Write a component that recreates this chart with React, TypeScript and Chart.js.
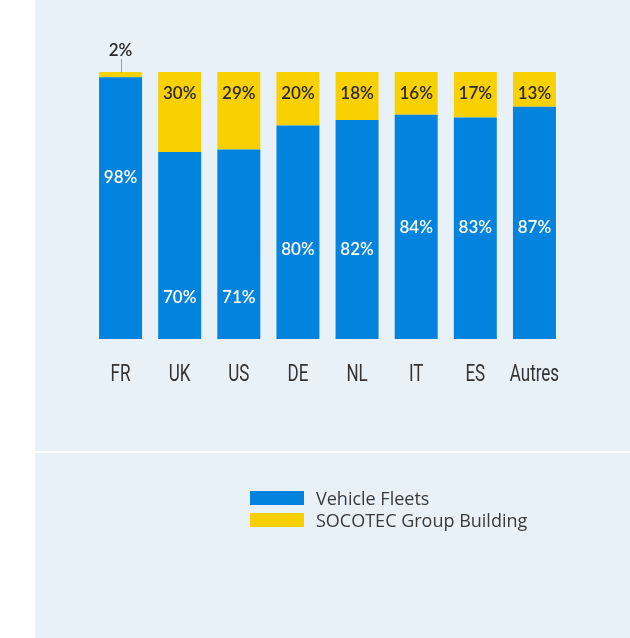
import { useEffect, useRef } from 'react';
import { Chart, registerables } from 'chart.js';

Chart.register(...registerables);

const countries = ['FR', 'UK', 'US', 'DE', 'NL', 'IT', 'ES', 'Autres'];
const vehicleFleets = [98, 70, 71, 80, 82, 84, 83, 87];
const groupBuilding = [2, 30, 29, 20, 18, 16, 17, 13];
// value (in %) at which each Vehicle Fleets label sits inside its bar
const vehicleLabelAnchor = [61, 16, 16, 34, 34, 42, 42, 42];
const seriesNames = ['Vehicle Fleets', 'SOCOTEC Group Building'];

const BLUE = '#0283de';
const YELLOW = '#f9d000';
const PANEL = '#e9f1f8';

const backgroundPlugin = {
  id: 'panelBg',
  beforeDraw(chart: any) {
    const { ctx, width, height } = chart;
    ctx.save();
    ctx.fillStyle = '#ffffff';
    ctx.fillRect(0, 0, width, height);
    ctx.fillStyle = PANEL;
    ctx.fillRect(35, 0, width - 35, height);
    ctx.fillStyle = '#ffffff';
    ctx.fillRect(35, 451, width - 35, 2);
    ctx.restore();
  },
};

// condensed category labels, placed by the x scale
const xLabelPlugin = {
  id: 'condensedXLabels',
  afterDraw(chart: any) {
    const { ctx } = chart;
    const xScale = chart.scales.x;
    const sx = 0.74;
    ctx.save();
    ctx.font = '23px Roboto, "Liberation Sans", sans-serif';
    ctx.fillStyle = '#333333';
    ctx.textAlign = 'center';
    ctx.textBaseline = 'alphabetic';
    const baseline = xScale.top + 42;
    xScale.ticks.forEach((_: any, i: number) => {
      const x = xScale.getPixelForTick(i);
      ctx.save();
      ctx.translate(x, baseline);
      ctx.scale(sx, 1);
      ctx.fillText(xScale.getLabelForValue(i), 0, 0);
      ctx.restore();
    });
    ctx.restore();
  },
};

const labelPlugin = {
  id: 'barLabels',
  afterDatasetsDraw(chart: any) {
    const { ctx } = chart;
    const yScale = chart.scales.y;
    const m0 = chart.getDatasetMeta(0);
    const m1 = chart.getDatasetMeta(1);
    ctx.save();
    ctx.textAlign = 'center';
    ctx.textBaseline = 'middle';
    ctx.font = '600 17px Lato, "Open Sans", sans-serif';
    countries.forEach((_, i) => {
      const b = m0.data[i];
      ctx.fillStyle = '#ffffff';
      ctx.fillText(vehicleFleets[i] + '%', b.x, yScale.getPixelForValue(vehicleLabelAnchor[i]) + 1);
      const yb = m1.data[i];
      const top = Math.min(yb.y, yb.base);
      ctx.fillStyle = '#2a2a2a';
      if (groupBuilding[i] >= 5) {
        ctx.fillText(groupBuilding[i] + '%', yb.x, top + 22);
      } else {
        ctx.fillText(groupBuilding[i] + '%', yb.x, top - 21);
        ctx.strokeStyle = '#a0a0a0';
        ctx.lineWidth = 1;
        ctx.beginPath();
        ctx.moveTo(Math.round(yb.x) + 0.5, top - 13);
        ctx.lineTo(Math.round(yb.x) + 0.5, top + 1);
        ctx.stroke();
      }
    });
    ctx.restore();
  },
};

const legendPlugin = {
  id: 'stackLegend',
  afterDraw(chart: any) {
    const { ctx } = chart;
    ctx.save();
    ctx.font = '18px "Open Sans", Lato, sans-serif';
    ctx.textBaseline = 'middle';
    ctx.textAlign = 'left';
    chart.data.datasets.forEach((ds: any, i: number) => {
      const y = 491 + i * 22;
      ctx.fillStyle = ds.backgroundColor;
      ctx.fillRect(250, y, 54, 14);
      ctx.fillStyle = '#3a3a3a';
      ctx.fillText(ds.label, 316, y + 9);
    });
    ctx.restore();
  },
};

export default function App() {
  const ref = useRef<HTMLCanvasElement>(null);
  useEffect(() => {
    if (!ref.current) return;
    const chart = new Chart(ref.current, {
      type: 'bar',
      data: {
        labels: countries,
        datasets: [
          { label: seriesNames[0], data: vehicleFleets, backgroundColor: BLUE, borderWidth: 0 },
          { label: seriesNames[1], data: groupBuilding, backgroundColor: YELLOW, borderWidth: 0 },
        ],
      },
      options: {
        responsive: false,
        animation: false,
        devicePixelRatio: 1,
        layout: { padding: { top: 72, left: 91, right: 66, bottom: 239 } },
        datasets: { bar: { categoryPercentage: 1, barPercentage: 0.727 } },
        plugins: { legend: { display: false }, tooltip: { enabled: false } },
        scales: {
          x: {
            stacked: true,
            grid: { display: false, drawTicks: false },
            border: { display: false },
            ticks: { display: false, autoSkip: false, maxRotation: 0 },
            afterFit: (scale: any) => {
              scale.height = 60;
            },
          },
          y: { stacked: true, display: false, min: 0, max: 100 },
        },
      },
      plugins: [backgroundPlugin, labelPlugin, xLabelPlugin, legendPlugin],
    });
    return () => chart.destroy();
  }, []);
  return (
    <div style={{ position: 'absolute', left: 0, top: 0, width: 630, height: 638 }}>
      <canvas ref={ref} width={630} height={638} style={{ display: 'block' }} />
    </div>
  );
}
